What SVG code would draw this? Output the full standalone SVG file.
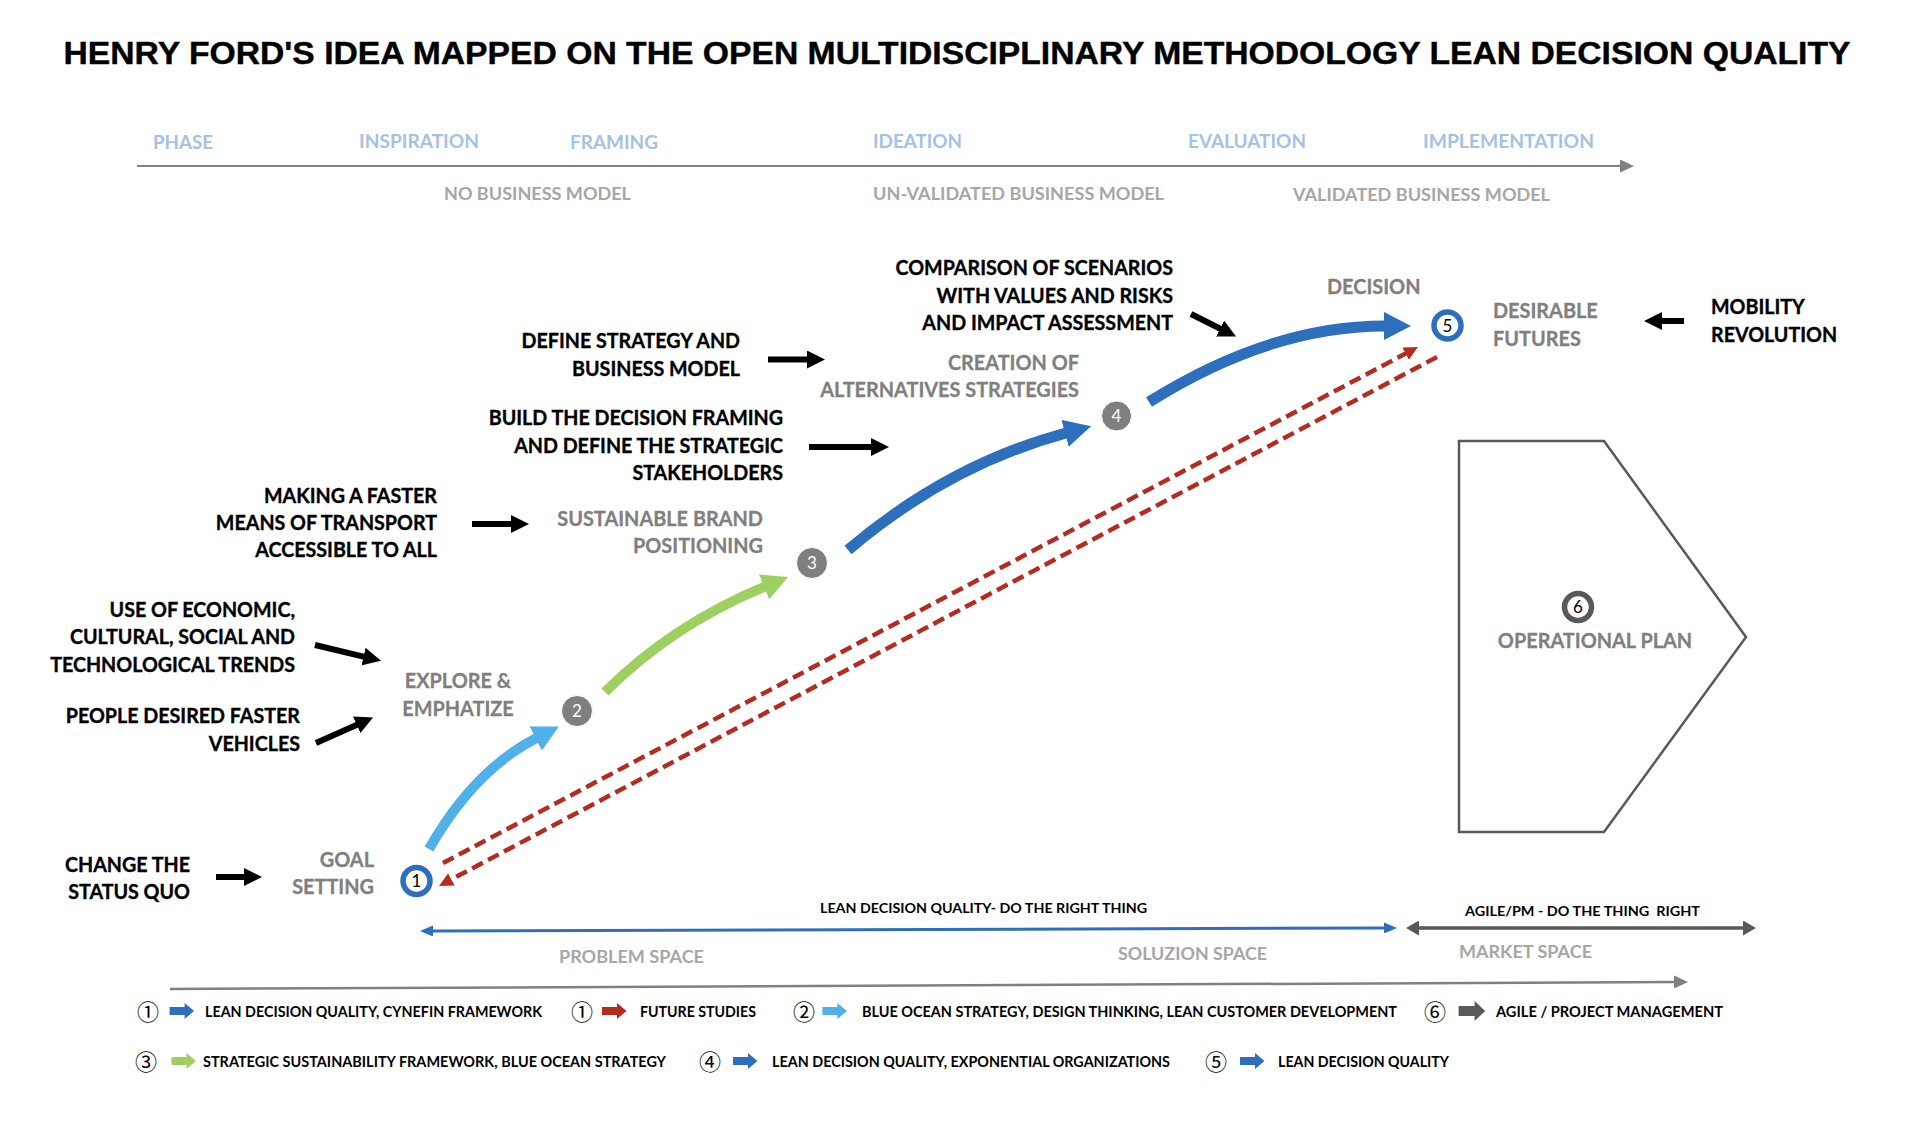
<svg xmlns="http://www.w3.org/2000/svg" width="1916" height="1122" viewBox="0 0 1916 1122">
<style>
text { font-family: Lato, "Open Sans", sans-serif; font-weight: 700; }
.title { font-family: "Liberation Sans", Arial, sans-serif; font-size: 32px; fill: #000; stroke: #000; stroke-width: 0.4; }
.ph { font-size: 18.5px; fill: #a3c2e4; }
.bm { font-size: 16.5px; fill: #a6a6a6; }
.blk { font-size: 20.5px; fill: #000; stroke: #000; stroke-width: 0.35; }
.gry { font-size: 20.5px; fill: #7f7f7f; stroke: #7f7f7f; stroke-width: 0.3; }
.sp { font-size: 16.5px; fill: #a6a6a6; }
.sm { font-size: 13.5px; fill: #000; }
.lg { font-size: 14.5px; fill: #000; }
.cd { font-family: "Noto Sans CJK JP", "DejaVu Sans", sans-serif; font-weight: 400; font-size: 22px; fill: #000; text-anchor: middle; }
.num { font-size: 17px; font-weight: 400; text-anchor: middle; }
.end { text-anchor: end; }
.mid { text-anchor: middle; }
.bk { stroke: #000; stroke-width: 6; fill: none; marker-end: url(#ak); }
.red { stroke: #b52b20; stroke-width: 4.5; fill: none; stroke-dasharray: 12 6; marker-end: url(#ar); }
.ring { fill: #fff; stroke-width: 5.5; }
.gc { fill: #7f7f7f; stroke: #fff; stroke-width: 1; }
</style>
<defs>
  <marker id="ak" markerUnits="userSpaceOnUse" markerWidth="18" markerHeight="18" viewBox="0 0 18 18" refX="1" refY="9" orient="auto"><path d="M0,0 L18,9 L0,18 Z" fill="#000"/></marker>
  <marker id="ab" markerUnits="userSpaceOnUse" markerWidth="27" markerHeight="28" viewBox="0 0 27 28" refX="1" refY="14" orient="auto"><path d="M0,0 L27,14 L0,28 Z" fill="#2e6fbd"/></marker>
  <marker id="alb" markerUnits="userSpaceOnUse" markerWidth="26" markerHeight="27" viewBox="0 0 26 27" refX="1" refY="13.5" orient="auto"><path d="M0,0 L26,13.5 L0,27 Z" fill="#4fb0ea"/></marker>
  <marker id="ag" markerUnits="userSpaceOnUse" markerWidth="26" markerHeight="27" viewBox="0 0 26 27" refX="1" refY="13.5" orient="auto"><path d="M0,0 L26,13.5 L0,27 Z" fill="#9dcf61"/></marker>
  <marker id="ar" markerUnits="userSpaceOnUse" markerWidth="14" markerHeight="14" viewBox="0 0 14 14" refX="1" refY="7" orient="auto"><path d="M0,0 L14,7 L0,14 Z" fill="#b52b20"/></marker>
  <marker id="bb" markerUnits="userSpaceOnUse" markerWidth="13" markerHeight="11" viewBox="0 0 13 11" refX="1" refY="5.5" orient="auto-start-reverse"><path d="M0,0 L13,5.5 L0,11 Z" fill="#2e6fbd"/></marker>
  <marker id="gb" markerUnits="userSpaceOnUse" markerWidth="13" markerHeight="15" viewBox="0 0 13 15" refX="1" refY="7.5" orient="auto-start-reverse"><path d="M0,0 L13,7.5 L0,15 Z" fill="#595959"/></marker>
  <marker id="ax" markerUnits="userSpaceOnUse" markerWidth="14" markerHeight="13" viewBox="0 0 14 13" refX="1" refY="6.5" orient="auto"><path d="M0,0 L14,6.5 L0,13 Z" fill="#808080"/></marker>
  <path id="la" d="M0,-4 H15 V-8 L24.5,0 L15,8 V4 H0 Z"/>
  <path id="la6" d="M0,-5 H16 V-10 L26.6,0 L16,10 V5 H0 Z"/>
</defs>

<text class="title mid" x="957" y="64" textLength="1787" lengthAdjust="spacingAndGlyphs">HENRY FORD'S IDEA MAPPED ON THE OPEN MULTIDISCIPLINARY METHODOLOGY LEAN DECISION QUALITY</text>

<g id="phase-axis">
  <text class="ph" x="153" y="149" textLength="60" lengthAdjust="spacingAndGlyphs">PHASE</text>
  <text class="ph" x="359" y="148" textLength="120" lengthAdjust="spacingAndGlyphs">INSPIRATION</text>
  <text class="ph" x="570" y="149" textLength="88" lengthAdjust="spacingAndGlyphs">FRAMING</text>
  <text class="ph" x="873" y="148" textLength="89" lengthAdjust="spacingAndGlyphs">IDEATION</text>
  <text class="ph" x="1188" y="148" textLength="118" lengthAdjust="spacingAndGlyphs">EVALUATION</text>
  <text class="ph" x="1423" y="148" textLength="171" lengthAdjust="spacingAndGlyphs">IMPLEMENTATION</text>
  <line x1="137" y1="166" x2="1621" y2="166" stroke="#808080" stroke-width="2" marker-end="url(#ax)"/>
  <text class="bm" x="444" y="200" textLength="187" lengthAdjust="spacingAndGlyphs">NO BUSINESS MODEL</text>
  <text class="bm" x="873" y="200" textLength="291" lengthAdjust="spacingAndGlyphs">UN-VALIDATED BUSINESS MODEL</text>
  <text class="bm" x="1293" y="201" textLength="257" lengthAdjust="spacingAndGlyphs">VALIDATED BUSINESS MODEL</text>
</g>

<g id="connectors">
  <path d="M429,849 Q474,770 536.6,738" stroke="#4fb0ea" stroke-width="10" fill="none" marker-end="url(#alb)"/>
  <path d="M605,692 Q672,625 765,586.5" stroke="#9dcf61" stroke-width="10" fill="none" marker-end="url(#ag)"/>
  <path d="M848,550 Q948,465 1066,433" stroke="#2e6fbd" stroke-width="11" fill="none" marker-end="url(#ab)"/>
  <path d="M1149,402 Q1270,326 1385,326" stroke="#2e6fbd" stroke-width="11" fill="none" marker-end="url(#ab)"/>
  <path class="red" d="M443,863 L1406.5,353.1"/>
  <path class="red" d="M1437,357 L450.5,879.9"/>
  <path class="bk" d="M216,877 L245,877"/>
  <path class="bk" d="M315,645 L364.5,656.8"/>
  <path class="bk" d="M316,743 L357.6,724.4"/>
  <path class="bk" d="M472,524 L512,524"/>
  <path class="bk" d="M809,447 L872,447"/>
  <path class="bk" d="M768,359.5 L808,359.5"/>
  <path class="bk" d="M1191,314 L1220.9,329"/>
  <path class="bk" d="M1684,321 L1661,321"/>
</g>

<g id="input-change" transform="matrix(0.96,0,0,1,7.6,0)">
  <text class="blk end" x="190" y="872">CHANGE THE</text>
  <text class="blk end" x="190" y="899">STATUS QUO</text>
</g>
<g id="input-trends" transform="matrix(0.96,0,0,1,11.8,0)">
  <text class="blk end" x="295" y="617">USE OF ECONOMIC,</text>
  <text class="blk end" x="295" y="644">CULTURAL, SOCIAL AND</text>
  <text class="blk end" x="295" y="672">TECHNOLOGICAL TRENDS</text>
</g>
<g id="input-people" transform="matrix(0.96,0,0,1,12,0)">
  <text class="blk end" x="300" y="723">PEOPLE DESIRED FASTER</text>
  <text class="blk end" x="300" y="751">VEHICLES</text>
</g>
<g id="input-making" transform="matrix(0.96,0,0,1,17.48,0)">
  <text class="blk end" x="437" y="503">MAKING A FASTER</text>
  <text class="blk end" x="437" y="530">MEANS OF TRANSPORT</text>
  <text class="blk end" x="437" y="557">ACCESSIBLE TO ALL</text>
</g>
<g id="input-build" transform="matrix(0.96,0,0,1,31.32,0)">
  <text class="blk end" x="783" y="425">BUILD THE DECISION FRAMING</text>
  <text class="blk end" x="783" y="453">AND DEFINE THE STRATEGIC</text>
  <text class="blk end" x="783" y="480">STAKEHOLDERS</text>
</g>
<g id="input-define" transform="matrix(0.96,0,0,1,29.6,0)">
  <text class="blk end" x="740" y="348">DEFINE STRATEGY AND</text>
  <text class="blk end" x="740" y="376">BUSINESS MODEL</text>
</g>
<g id="input-comparison" transform="matrix(0.96,0,0,1,46.92,0)">
  <text class="blk end" x="1173" y="275">COMPARISON OF SCENARIOS</text>
  <text class="blk end" x="1173" y="303">WITH VALUES AND RISKS</text>
  <text class="blk end" x="1173" y="330">AND IMPACT ASSESSMENT</text>
</g>
<g id="input-mobility" transform="matrix(0.96,0,0,1,68.44,0)">
  <text class="blk" x="1711" y="314">MOBILITY</text>
  <text class="blk" x="1711" y="342">REVOLUTION</text>
</g>

<g id="node-1">
  <circle class="ring" cx="416.5" cy="881" r="13.5" stroke="#2e6fbd"/>
  <text class="num" x="416.5" y="887" fill="#000">1</text>
  <g transform="matrix(0.97,0,0,1,11.22,0)">
    <text class="gry end" x="374" y="867">GOAL</text>
    <text class="gry end" x="374" y="894">SETTING</text>
  </g>
</g>
<g id="node-2">
  <circle class="gc" cx="577" cy="711" r="15.5"/>
  <text class="num" x="577" y="717" fill="#fff">2</text>
  <g transform="matrix(0.97,0,0,1,13.74,0)">
    <text class="gry mid" x="458" y="688">EXPLORE &amp;</text>
    <text class="gry mid" x="458" y="716">EMPHATIZE</text>
  </g>
</g>
<g id="node-3">
  <circle class="gc" cx="812" cy="563" r="15.5"/>
  <text class="num" x="812" y="569" fill="#fff">3</text>
  <g transform="matrix(0.97,0,0,1,22.89,0)">
    <text class="gry end" x="763" y="526">SUSTAINABLE BRAND</text>
    <text class="gry end" x="763" y="553">POSITIONING</text>
  </g>
</g>
<g id="node-4">
  <circle class="gc" cx="1116.5" cy="416" r="15"/>
  <text class="num" x="1116.5" y="422" fill="#fff">4</text>
  <g transform="matrix(0.97,0,0,1,32.37,0)">
    <text class="gry end" x="1079" y="370">CREATION OF</text>
    <text class="gry end" x="1079" y="397">ALTERNATIVES STRATEGIES</text>
  </g>
</g>
<g id="node-5">
  <text class="gry" x="1327" y="294" transform="matrix(0.97,0,0,1,39.81,0)">DECISION</text>
  <circle class="ring" cx="1447.5" cy="325.5" r="13.5" stroke="#2e6fbd"/>
  <text class="num" x="1447.5" y="331.5" fill="#000">5</text>
  <g transform="matrix(0.97,0,0,1,44.79,0)">
    <text class="gry" x="1493" y="318">DESIRABLE</text>
    <text class="gry" x="1493" y="346">FUTURES</text>
  </g>
</g>
<g id="node-6">
  <polygon points="1459,441 1604,441 1746,637 1604,832 1459,832" fill="none" stroke="#595959" stroke-width="2.5"/>
  <circle class="ring" cx="1578" cy="607" r="13.5" stroke="#595959"/>
  <text class="num" x="1578" y="613" fill="#000">6</text>
  <text class="gry mid" x="1595" y="648" transform="matrix(0.97,0,0,1,47.85,0)">OPERATIONAL PLAN</text>
</g>

<g id="spaces">
  <text class="sm" x="820" y="913" textLength="327" lengthAdjust="spacingAndGlyphs">LEAN DECISION QUALITY- DO THE RIGHT THING</text>
  <line x1="432" y1="931" x2="1385" y2="928" stroke="#2e6fbd" stroke-width="3" marker-start="url(#bb)" marker-end="url(#bb)"/>
  <text class="sp" x="559" y="963" textLength="145" lengthAdjust="spacingAndGlyphs">PROBLEM SPACE</text>
  <text class="sp" x="1118" y="960" textLength="149" lengthAdjust="spacingAndGlyphs">SOLUZION SPACE</text>
  <text class="sm" x="1465" y="916" xml:space="preserve" style="white-space:pre" textLength="235" lengthAdjust="spacingAndGlyphs">AGILE/PM - DO THE THING  RIGHT</text>
  <line x1="1418" y1="928" x2="1744" y2="928" stroke="#595959" stroke-width="3.5" marker-start="url(#gb)" marker-end="url(#gb)"/>
  <text class="sp" x="1459" y="958" textLength="133" lengthAdjust="spacingAndGlyphs">MARKET SPACE</text>
  <line x1="170" y1="989" x2="1675" y2="982" stroke="#808080" stroke-width="2.5" marker-end="url(#ax)"/>
</g>

<g id="legend">
  <text class="cd" x="148" y="1019.5">①</text>
  <use href="#la" x="169.6" y="1011" fill="#2e6fbd"/>
  <text class="lg" x="205" y="1017" textLength="337" lengthAdjust="spacingAndGlyphs">LEAN DECISION QUALITY, CYNEFIN FRAMEWORK</text>
  <text class="cd" x="582" y="1019.5">①</text>
  <use href="#la" x="602" y="1011" fill="#b52b20"/>
  <text class="lg" x="640" y="1017" textLength="116" lengthAdjust="spacingAndGlyphs">FUTURE STUDIES</text>
  <text class="cd" x="804" y="1019.5">②</text>
  <use href="#la" x="822.4" y="1011" fill="#4fb0ea"/>
  <text class="lg" x="862" y="1017" textLength="535" lengthAdjust="spacingAndGlyphs">BLUE OCEAN STRATEGY, DESIGN THINKING, LEAN CUSTOMER DEVELOPMENT</text>
  <text class="cd" x="1435" y="1019.5">⑥</text>
  <use href="#la6" x="1458.6" y="1011" fill="#595959"/>
  <text class="lg" x="1496" y="1017" textLength="227" lengthAdjust="spacingAndGlyphs">AGILE / PROJECT MANAGEMENT</text>

  <text class="cd" x="146" y="1069.5">③</text>
  <use href="#la" x="171.5" y="1061" fill="#9dcf61"/>
  <text class="lg" x="203" y="1067" textLength="463" lengthAdjust="spacingAndGlyphs">STRATEGIC SUSTAINABILITY FRAMEWORK, BLUE OCEAN STRATEGY</text>
  <text class="cd" x="710" y="1069.5">④</text>
  <use href="#la" x="733" y="1061" fill="#2e6fbd"/>
  <text class="lg" x="772" y="1067" textLength="398" lengthAdjust="spacingAndGlyphs">LEAN DECISION QUALITY, EXPONENTIAL ORGANIZATIONS</text>
  <text class="cd" x="1216" y="1069.5">⑤</text>
  <use href="#la" x="1240" y="1061" fill="#2e6fbd"/>
  <text class="lg" x="1278" y="1067" textLength="171" lengthAdjust="spacingAndGlyphs">LEAN DECISION QUALITY</text>
</g>
</svg>
